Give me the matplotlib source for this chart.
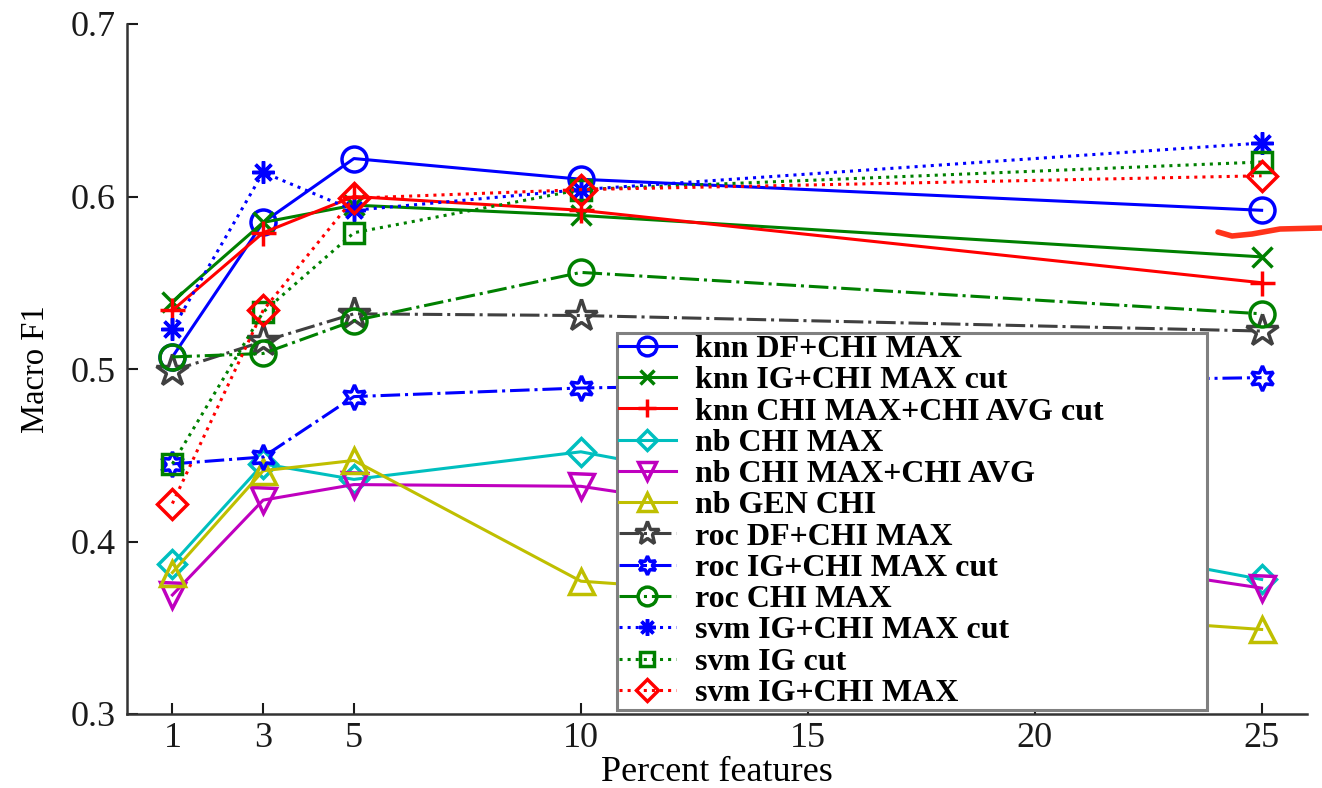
import matplotlib
matplotlib.use("Agg")
import matplotlib.pyplot as plt
from matplotlib.lines import Line2D

plt.rcParams['font.family'] = ['Liberation Serif', 'DejaVu Serif']

x = [1, 3, 5, 10, 25]
knn_df_chimax = [0.507, 0.585, 0.622, 0.610, 0.592]
knn_ig_chimax_cut = [0.539, 0.585, 0.595, 0.589, 0.565]
knn_chimax_chiavg_cut = [0.534, 0.579, 0.600, 0.592, 0.550]
nb_chimax = [0.387, 0.445, 0.436, 0.452, 0.378]
nb_chimax_chiavg = [0.369, 0.424, 0.433, 0.432, 0.373]
nb_genchi = [0.382, 0.441, 0.447, 0.377, 0.349]
roc_df_chimax = [0.499, 0.516, 0.532, 0.531, 0.522]
roc_ig_chimax_cut = [0.445, 0.449, 0.484, 0.489, 0.495]
roc_chimax = [0.507, 0.509, 0.528, 0.556, 0.532]
svm_ig_chimax_cut = [0.523, 0.614, 0.592, 0.604, 0.631]
svm_ig_cut = [0.445, 0.533, 0.579, 0.604, 0.620]
svm_ig_chimax = [0.422, 0.534, 0.599, 0.604, 0.612]

labels = ["knn DF+CHI MAX", "knn IG+CHI MAX cut", "knn CHI MAX+CHI AVG cut",
          "nb CHI MAX", "nb CHI MAX+CHI AVG", "nb GEN CHI",
          "roc DF+CHI MAX", "roc IG+CHI MAX cut", "roc CHI MAX",
          "svm IG+CHI MAX cut", "svm IG cut", "svm IG+CHI MAX"]
xticks = [1, 3, 5, 10, 15, 20, 25]
yticks = [0.3, 0.4, 0.5, 0.6, 0.7]

series = [knn_df_chimax, knn_ig_chimax_cut, knn_chimax_chiavg_cut,
          nb_chimax, nb_chimax_chiavg, nb_genchi,
          roc_df_chimax, roc_ig_chimax_cut, roc_chimax,
          svm_ig_chimax_cut, svm_ig_cut, svm_ig_chimax]

blue = (0, 0, 1)
green = (0, 0.5, 0)
red = (1, 0, 0)
cyan = (0, 0.75, 0.75)
magenta = (0.75, 0, 0.75)
yellow = (0.75, 0.75, 0)
dgray = (0.25, 0.25, 0.25)

hexagram = (6, 1, 0)
asterisk = (8, 2, 0)

styles = [
    dict(color=blue, ls='-', marker='o', mfc='none', ms=18),
    dict(color=green, ls='-', marker='x', ms=14),
    dict(color=red, ls='-', marker='+', ms=18),
    dict(color=cyan, ls='-', marker='D', mfc='none', ms=14),
    dict(color=magenta, ls='-', marker='v', mfc='none', ms=18),
    dict(color=yellow, ls='-', marker='^', mfc='none', ms=18),
    dict(color=dgray, ls='-.', marker='*', mfc='none', ms=24),
    dict(color=blue, ls='-.', marker=hexagram, mfc='none', ms=18),
    dict(color=green, ls='-.', marker='o', mfc='none', ms=18),
    dict(color=blue, ls=':', marker=asterisk, ms=16),
    dict(color=green, ls=':', marker='s', mfc='none', ms=14),
    dict(color=red, ls=':', marker='D', mfc='none', ms=15),
]

fig = plt.figure(figsize=(13.22, 7.88), dpi=100)
ax = fig.add_axes([127/1322, 1-714/788, (1307-127)/1322, (714-24)/788])

for y, lab, st in zip(series, labels, styles):
    ax.plot(x, y, label=lab, lw=2.2, mew=2.5, **st)

ax.set_xlim(0, 26)
ax.set_ylim(0.3, 0.7)
ax.set_xticks(xticks)
ax.set_xticklabels([str(t) for t in xticks])
ax.set_yticks(yticks)
ax.set_yticklabels([f"{t:.1f}" for t in yticks])
ax.tick_params(direction='in', length=8, width=1.5, labelsize=26,
               colors=(0.1, 0.1, 0.1))
ax.tick_params(axis='y', pad=8)
ax.tick_params(axis='x', pad=6)
for s in ['top', 'right']:
    ax.spines[s].set_visible(False)
for s in ['left', 'bottom']:
    ax.spines[s].set_linewidth(1.8)
    ax.spines[s].set_color((0.2, 0.2, 0.2))
ax.set_xlabel("Percent features", fontsize=26, labelpad=0.5)
ax.set_ylabel("Macro F1", fontsize=23.5, labelpad=14)

leg = ax.legend(loc='upper left',
                bbox_to_anchor=(617/1322, 1-705/788, (1207-617)/1322, (705-333)/788),
                bbox_transform=fig.transFigure, borderaxespad=0, mode='expand',
                prop={'weight': 'bold', 'size': 23}, labelspacing=0.06,
                handlelength=1.8, handletextpad=0.6, fancybox=False,
                framealpha=1, edgecolor=(0.5, 0.5, 0.5), markerscale=0.75,
                borderpad=0.05)
leg.get_frame().set_linewidth(2.2)

# red hand-drawn stroke at the right edge
sx = [1218, 1232, 1252, 1280, 1322]
sy = [232, 236, 234, 229, 228]
fig.add_artist(Line2D([v/1322 for v in sx], [1-v/788 for v in sy],
                      transform=fig.transFigure, color=(1, 0.2, 0.1), lw=4,
                      solid_capstyle='round'))

fig.savefig("out.png", dpi=100)
